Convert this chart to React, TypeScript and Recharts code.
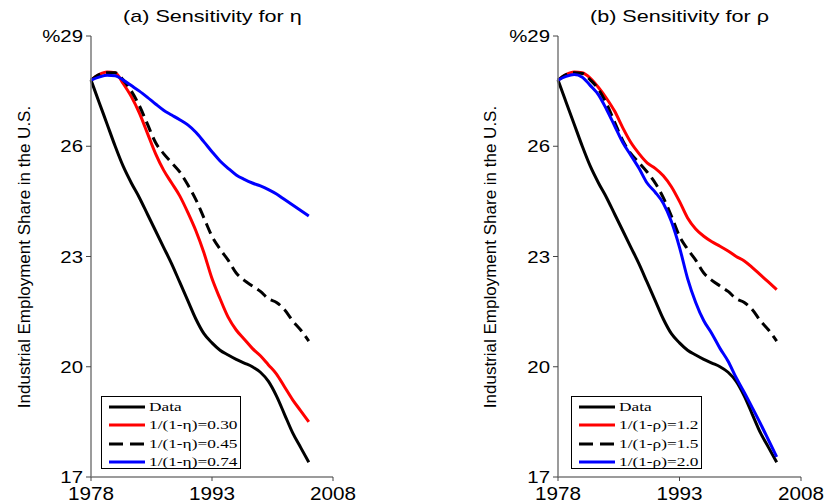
import React from "react";
import { Line, LineChart, XAxis, YAxis } from "recharts";

// years on the x axis
const years = [
  1978, 1979, 1980, 1981, 1982, 1983, 1984, 1985, 1986, 1987, 1988, 1989, 1990, 1991,
  1992, 1993, 1994, 1995, 1996, 1997, 1998, 1999, 2000, 2001, 2002, 2003, 2004, 2005,
];

// observed industrial employment share (%)
const observed = [
  27.8, 27.2, 26.6, 26.0, 25.45, 25.0, 24.6, 24.15, 23.7, 23.25, 22.8, 22.3, 21.8, 21.3,
  20.9, 20.65, 20.45, 20.32, 20.2, 20.1, 20.0, 19.85, 19.6, 19.2, 18.7, 18.2, 17.8, 17.4,
];

// panel (a): sensitivity for eta
const eta030 = [
  27.8, 27.95, 28.02, 28.0, 27.7, 27.35, 26.9, 26.35, 25.8, 25.35, 25.0, 24.65, 24.2, 23.7,
  23.1, 22.4, 21.85, 21.35, 21.0, 20.75, 20.5, 20.3, 20.05, 19.8, 19.45, 19.1, 18.8, 18.5,
];
const eta045 = [
  27.8, 27.95, 28.0, 28.0, 27.8, 27.5, 27.1, 26.6, 26.1, 25.8, 25.55, 25.3, 24.95, 24.55,
  24.05, 23.55, 23.2, 22.9, 22.55, 22.35, 22.2, 22.05, 21.85, 21.75, 21.55, 21.25, 21.0, 20.7,
];
const eta074 = [
  27.8, 27.88, 27.93, 27.92, 27.8, 27.65, 27.5, 27.33, 27.15, 26.98, 26.85, 26.72, 26.58, 26.38,
  26.12, 25.85, 25.6, 25.4, 25.22, 25.1, 25.0, 24.92, 24.82, 24.7, 24.55, 24.4, 24.25, 24.1,
];

// panel (b): sensitivity for rho
const rho12 = [
  27.8, 27.95, 28.02, 28.0, 27.85, 27.6, 27.3, 26.95, 26.5, 26.1, 25.8, 25.55, 25.4, 25.2,
  24.9, 24.5, 24.05, 23.75, 23.55, 23.4, 23.28, 23.15, 23.0, 22.88, 22.7, 22.5, 22.3, 22.1,
];
const rho15 = [
  27.8, 27.95, 28.0, 27.98, 27.8, 27.55, 27.15, 26.65, 26.15, 25.8, 25.55, 25.3, 25.0, 24.6,
  24.1, 23.55, 23.2, 22.9, 22.55, 22.35, 22.2, 22.05, 21.85, 21.75, 21.55, 21.25, 21.0, 20.7,
];
const rho20 = [
  27.8, 27.9, 27.95, 27.88, 27.65, 27.4, 27.0, 26.55, 26.1, 25.75, 25.4, 25.0, 24.75, 24.45,
  23.95, 23.25, 22.4, 21.75, 21.25, 20.9, 20.5, 20.15, 19.7, 19.3, 18.88, 18.45, 18.0, 17.55,
];

const xTicks = [1978, 1993, 2008];
const yTicks = [17, 20, 23, 26, 29];

type Series = { key: string; name: string; color: string; dashed?: boolean; values: number[] };

const etaSeries: Series[] = [
  { key: "data", name: "Data", color: "#000000", values: observed },
  { key: "s1", name: "1/(1-η)=0.30", color: "#ff0000", values: eta030 },
  { key: "s2", name: "1/(1-η)=0.45", color: "#000000", dashed: true, values: eta045 },
  { key: "s3", name: "1/(1-η)=0.74", color: "#0000ff", values: eta074 },
];

const rhoSeries: Series[] = [
  { key: "data", name: "Data", color: "#000000", values: observed },
  { key: "s1", name: "1/(1-ρ)=1.2", color: "#ff0000", values: rho12 },
  { key: "s2", name: "1/(1-ρ)=1.5", color: "#000000", dashed: true, values: rho15 },
  { key: "s3", name: "1/(1-ρ)=2.0", color: "#0000ff", values: rho20 },
];

const sans = "'Liberation Sans', Arial, sans-serif";
const serif = "'Liberation Serif', 'Times New Roman', serif";

function toRows(series: Series[]) {
  return years.map((year, i) => {
    const row: Record<string, number> = { year };
    series.forEach((s) => (row[s.key] = s.values[i]));
    return row;
  });
}

const XTick = (props: any) => {
  const { x, y, payload } = props;
  return (
    <text
      transform={`translate(${x},${y + 19}) scale(1.15,1)`}
      textAnchor="middle"
      fontSize={18}
      fontFamily={sans}
      fill="#000"
    >
      {payload.value}
    </text>
  );
};

const YTick = (props: any) => {
  const { x, y, payload } = props;
  return (
    <text
      transform={`translate(${x},${y + 6}) scale(1.2,1)`}
      textAnchor="end"
      fontSize={17}
      fontFamily={sans}
      fill="#000"
    >
      {payload.value === 29 ? "%29" : payload.value}
    </text>
  );
};

function LegendBox({ series, width }: { series: Series[]; width: number }) {
  return (
    <div
      style={{
        width,
        height: 73,
        border: "1px solid #000",
        background: "#fff",
        boxSizing: "border-box",
        paddingTop: 1,
      }}
    >
      {series.map((s) => (
        <div key={s.key} style={{ height: 18.3, display: "flex", alignItems: "center" }}>
          <svg width={47} height={6} style={{ flex: "none" }}>
            <line
              x1={7}
              x2={43}
              y1={3}
              y2={3}
              stroke={s.color}
              strokeWidth={3}
              strokeDasharray={s.dashed ? "14 7" : undefined}
            />
          </svg>
          <span
            style={{
              fontFamily: serif,
              fontSize: 13,
              display: "inline-block",
              transform: "scaleX(1.33)",
              transformOrigin: "left center",
              whiteSpace: "nowrap",
            }}
          >
            {s.name}
          </span>
        </div>
      ))}
    </div>
  );
}

function Panel({
  title,
  series,
  left,
  width,
  marginLeft,
  marginRight,
  labelX,
  legendLeft,
  legendWidth,
}: {
  title: string;
  series: Series[];
  left: number;
  width: number;
  marginLeft: number;
  marginRight: number;
  labelX: number;
  legendLeft: number;
  legendWidth: number;
}) {
  const rows = toRows(series);
  const plotLeft = marginLeft + 60;
  const plotRight = width - marginRight;
  return (
    <div style={{ position: "absolute", left, top: 0, width, height: 504 }}>
      <div
        style={{
          position: "absolute",
          left: plotLeft,
          width: plotRight - plotLeft,
          top: 7,
          textAlign: "center",
          fontFamily: sans,
          fontSize: 17,
          whiteSpace: "nowrap",
        }}
      >
        <span style={{ display: "inline-block", transform: "scaleX(1.27)" }}>{title}</span>
      </div>
      <LineChart
        width={width}
        height={504}
        data={rows}
        margin={{ top: 36, right: marginRight, left: marginLeft, bottom: 0 }}
      >
        <XAxis
          dataKey="year"
          type="number"
          domain={[1978, 2008]}
          ticks={xTicks}
          height={27}
          tickSize={4}
          tickMargin={0}
          tick={<XTick />}
          axisLine={{ stroke: "#7a7a7a", strokeWidth: 1.5 }}
          tickLine={{ stroke: "#444" }}
          interval={0}
        />
        <YAxis
          type="number"
          domain={[17, 29]}
          ticks={yTicks}
          width={60}
          tickSize={5}
          tickMargin={3}
          tick={<YTick />}
          axisLine={{ stroke: "#7a7a7a", strokeWidth: 1.5 }}
          tickLine={{ stroke: "#444" }}
          interval={0}
          label={() => (
            <text
              x={labelX}
              y={257}
              transform={`rotate(-90 ${labelX} 257)`}
              textAnchor="middle"
              fontSize={17}
              fontFamily={sans}
              fill="#000"
            >
              Industrial Employment Share in the U.S.
            </text>
          )}
        />
        {series.map((s) => (
          <Line
            key={s.key}
            dataKey={s.key}
            name={s.name}
            type="monotone"
            stroke={s.color}
            strokeWidth={3}
            strokeDasharray={s.dashed ? "11 6" : undefined}
            dot={false}
            isAnimationActive={false}
          />
        ))}
      </LineChart>
      <div style={{ position: "absolute", left: legendLeft, top: 396 }}>
        <LegendBox series={series} width={legendWidth} />
      </div>
    </div>
  );
}

export default function App() {
  return (
    <div
      style={{
        position: "absolute",
        left: 0,
        top: 0,
        width: 825,
        height: 504,
        background: "#fff",
        overflow: "hidden",
      }}
    >
      <Panel
        title="(a) Sensitivity for η"
        series={etaSeries}
        left={0}
        width={412}
        marginLeft={31}
        marginRight={79}
        labelX={30}
        legendLeft={101}
        legendWidth={140}
      />
      <Panel
        title="(b) Sensitivity for ρ"
        series={rhoSeries}
        left={412}
        width={413}
        marginLeft={86}
        marginRight={24}
        labelX={84}
        legendLeft={159}
        legendWidth={131}
      />
    </div>
  );
}
